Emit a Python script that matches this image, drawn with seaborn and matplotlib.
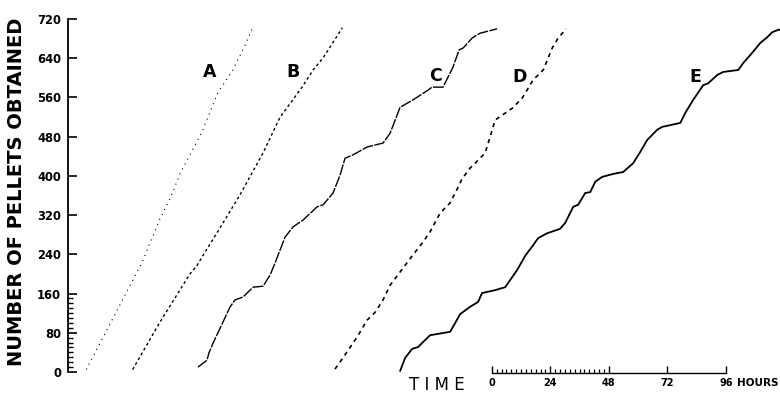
import numpy as np
import pandas as pd
import matplotlib
matplotlib.use("Agg")
import matplotlib.pyplot as plt
import seaborn as sns

sns.set_style("white")
plt.rcParams['font.family'] = ['DejaVu Sans']
plt.rcParams['text.color'] = 'black'
plt.rcParams['axes.labelcolor'] = 'black'
plt.rcParams['ytick.color'] = 'black'

# cumulative records, x in hours from the left axis, y in pellets
a_hours = [7.5, 30.5, 37.5, 42, 46, 55, 59, 61.5, 67.5, 72.5, 75.5]
a_pellets = [5, 225, 310, 355, 405, 490, 540, 570, 615, 665, 700]

b_hours = [26.5, 37.5, 50, 53, 55.5, 61, 70.5, 80, 87, 96, 100.5, 104.5, 107.5, 112.5]
b_pellets = [5, 100, 200, 218, 239, 283, 361, 447, 520, 581, 616, 640, 663, 702]

c_hours = [53.3, 57, 57.8, 59.5, 66.5, 68.5, 71.8, 75.9, 80, 82.9, 84.9, 89, 92.3, 96.4,
           102.2, 104.6, 108.7, 111.6, 113.6, 116.9, 122.7, 129.2, 132.1, 136.2, 141.5,
           147.7, 149.3, 153.8, 157.9, 160.4, 162.1, 165.7, 169, 176]
c_pellets = [10, 24, 39, 59, 133, 147, 153, 173, 175, 198, 222, 275, 296, 310,
             337, 341, 365, 402, 436, 443, 459, 467, 487, 540, 555,
             575, 581, 581, 622, 657, 661, 681, 691, 700]

d_hours = [109.5, 112.8, 116.9, 119, 122.7, 126, 129.2, 132.1, 137.4, 141.5, 145.6, 148.5,
           152.6, 156.7, 159.6, 161.6, 164.9, 167.8, 171.1, 175.2, 182.2, 186.3, 190.8,
           194.9, 198.6, 201, 203.1, 204.3]
d_pellets = [6, 29, 59, 75, 106, 122, 147, 177, 212, 239, 265, 286,
             324, 345, 373, 394, 416, 430, 447, 514, 538, 559, 596,
             616, 661, 681, 693, 700]

e_hours = [136.2, 138.3, 141.1, 143.6, 145.6, 148.5, 156.7, 158.8, 160.8, 164.9, 168.2,
           169.8, 175.2, 179.3, 184.2, 187.5, 190.8, 192.8, 196.5, 201.8, 203.9, 207.2,
           209.2, 212.1, 214.2, 216.2, 219.1, 223.6, 227.7, 231.8, 234.7, 237.5, 241.6,
           243.7, 251.1, 253.1, 256.4, 260.5, 262.6, 266.3, 268.7, 274.9, 276.9, 280.6,
           283.9, 286.8, 288.8, 291.3, 294]
e_pellets = [2, 29, 47, 51, 61, 75, 82, 100, 118, 133, 143,
             161, 167, 173, 208, 237, 259, 273, 283, 292, 304, 337,
             341, 365, 367, 388, 398, 404, 408, 426, 449, 473, 494,
             500, 508, 528, 555, 585, 589, 606, 612, 616, 630, 651,
             671, 683, 693, 698, 698]

curve_names = ["A", "B", "C", "D", "E"]
label_hours = [58.3, 92.3, 150.6, 185.0, 257.2]
label_pellets = [612, 612, 604, 602, 602]

y_ticks = [0, 80, 160, 240, 320, 400, 480, 560, 640, 720]
time_ticks = [0, 24, 48, 72, 96]
time_origin = 173.8

curves = {
    "A": (a_hours, a_pellets, 0.8, (0, (1, 4))),
    "B": (b_hours, b_pellets, 1.0, (0, (2, 2))),
    "C": (c_hours, c_pellets, 1.0, (0, (8, 1))),
    "D": (d_hours, d_pellets, 1.2, (0, (2.5, 2.5))),
    "E": (e_hours, e_pellets, 1.3, "-"),
}

fig = plt.figure(figsize=(7.8, 3.93), dpi=100)
ax = fig.add_axes([68 / 780, 21 / 393, 712 / 780, 353 / 393])

for name in curve_names:
    hrs, pel, lw, ls = curves[name]
    df = pd.DataFrame({"hours": hrs, "pellets": pel})
    sns.lineplot(data=df, x="hours", y="pellets", ax=ax, color="black",
                 lw=lw, linestyle=ls, sort=False, estimator=None)

for name, hx, py in zip(curve_names, label_hours, label_pellets):
    ax.text(hx, py, name, fontsize=12.5, fontweight="bold", ha="center", va="center")

ax.set_xlim(0, 292)
ax.set_ylim(0, 720)
for side in ["top", "right", "bottom"]:
    ax.spines[side].set_visible(False)
ax.spines["left"].set_linewidth(1.3)
ax.spines["left"].set_color("black")

ax.set_xticks([])
ax.set_yticks(y_ticks)
ax.set_yticks([v for v in range(10, 160, 10) if v not in y_ticks], minor=True)
ax.tick_params(axis="y", which="major", direction="in", length=6.5, width=1.2,
               color="black", pad=5, labelsize=8.3, left=True)
ax.tick_params(axis="y", which="minor", direction="in", length=3.5, width=1.0,
               color="black", left=True)
for t in ax.get_yticklabels():
    t.set_fontweight("bold")

ax.set_xlabel("")
ax.set_ylabel("NUMBER OF PELLETS OBTAINED", fontsize=14, fontweight="bold")
ax.yaxis.set_label_coords(-42 / 712, 0.51)

# time scale bar under the records
bar_y = -2
ax.plot([time_origin, time_origin + 96], [bar_y, bar_y], color="black", lw=1.0, clip_on=False)
ax.vlines([time_origin + t for t in time_ticks], bar_y, bar_y + 15, color="black", lw=1.0, clip_on=False)
ax.vlines([time_origin + t for t in range(2, 48, 2) if t != 24], bar_y, bar_y + 8,
          color="black", lw=0.9, clip_on=False)
for t in time_ticks:
    ax.text(time_origin + t, -22.5, str(t), fontsize=7, fontweight="bold",
            ha="center", va="center", clip_on=False)
ax.text(274.5, -22.5, "HOURS", fontsize=7.5, fontweight="bold", ha="left", va="center", clip_on=False)
ax.text(151.4, -25.5, "T I M E", fontsize=12, ha="center", va="center", clip_on=False)

fig.savefig("out.png", dpi=100)
